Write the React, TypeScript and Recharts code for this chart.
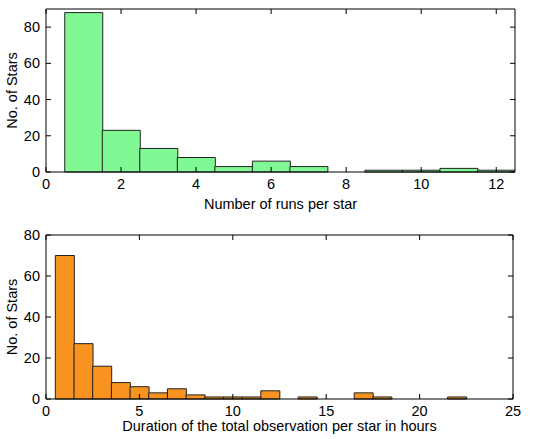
import { BarChart, Bar, XAxis, YAxis } from 'recharts';

const runCounts = [1, 2, 3, 4, 5, 6, 7, 8, 9, 10, 11, 12];
const runStars = [88, 23, 13, 8, 3, 6, 3, 0, 1, 1, 2, 1];
const runTicks = [0, 2, 4, 6, 8, 10, 12];

const hourBins = [1, 2, 3, 4, 5, 6, 7, 8, 9, 10, 11, 12, 13, 14, 15, 16, 17, 18, 19, 20, 21, 22];
const hourStars = [70, 27, 16, 8, 6, 3, 5, 2, 1, 1, 1, 4, 0, 1, 0, 0, 3, 1, 0, 0, 0, 1];
const hourTicks = [0, 5, 10, 15, 20, 25];

const starTicks = [0, 20, 40, 60, 80];

const font = { fontFamily: 'Liberation Sans, Arial, sans-serif', fontSize: 14.5, fill: '#000' };

interface HistProps {
  data: { x: number; n: number }[];
  xDomain: [number, number];
  xTicks: number[];
  yDomain: [number, number];
  xLabel: string;
  labelOffset: number;
  color: string;
  top: number;
  height: number;
  margin: { top: number; right: number; left: number; bottom: number };
  xHeight: number;
}

function Histogram({ data, xDomain, xTicks, yDomain, xLabel, labelOffset, color, top, height, margin, xHeight }: HistProps) {
  return (
    <div style={{ position: 'absolute', left: 0, top }}>
      <BarChart width={551} height={height} data={data} margin={margin} barCategoryGap={0} barGap={0}>
        <XAxis
          dataKey="x"
          type="number"
          domain={xDomain}
          ticks={xTicks}
          allowDataOverflow
          height={xHeight}
          stroke="#000"
          tickSize={-5}
          tickMargin={12}
          tick={font}
          label={{ value: xLabel, position: 'insideBottom', offset: labelOffset, style: font }}
        />
        <XAxis
          xAxisId="top"
          dataKey="x"
          type="number"
          orientation="top"
          domain={xDomain}
          ticks={xTicks}
          allowDataOverflow
          height={1}
          stroke="#000"
          tickSize={-5}
          tickFormatter={() => ''}
        />
        <YAxis
          type="number"
          domain={yDomain}
          ticks={starTicks}
          width={46}
          stroke="#000"
          tickSize={-5}
          tickMargin={11}
          tick={font}
          label={{ value: 'No. of Stars', angle: -90, position: 'insideLeft', offset: 12, style: { ...font, textAnchor: 'middle' } }}
        />
        <YAxis
          yAxisId="right"
          type="number"
          orientation="right"
          domain={yDomain}
          ticks={starTicks}
          allowDataOverflow
          width={1}
          stroke="#000"
          tickSize={-5}
          tickFormatter={() => ''}
        />
        <Bar dataKey="n" fill={color} stroke="#222" strokeWidth={1} isAnimationActive={false} />
        {/* invisible twin so the top/right box axes get drawn */}
        <Bar dataKey="n" xAxisId="top" yAxisId="right" fill="none" stroke="none" isAnimationActive={false} />
      </BarChart>
    </div>
  );
}

export default function App() {
  const runData = runCounts.map((x, i) => ({ x, n: runStars[i] }));
  const hourData = hourBins.map((x, i) => ({ x, n: hourStars[i] }));
  return (
    <div style={{ position: 'absolute', left: 0, top: 0, width: 551, height: 439, background: '#fff' }}>
      <Histogram
        data={runData}
        xDomain={[0, 12.5]}
        xTicks={runTicks}
        yDomain={[0, 90]}
        xLabel="Number of runs per star"
        labelOffset={6}
        color="#80f994"
        top={0}
        height={215}
        margin={{ top: 8, right: 35, left: 0, bottom: 0 }}
        xHeight={43}
      />
      <Histogram
        data={hourData}
        xDomain={[0, 25]}
        xTicks={hourTicks}
        yDomain={[0, 80]}
        xLabel="Duration of the total observation per star in hours"
        labelOffset={8}
        color="#f7931e"
        top={220}
        height={219}
        margin={{ top: 14, right: 37, left: 0, bottom: 0 }}
        xHeight={40}
      />
    </div>
  );
}
